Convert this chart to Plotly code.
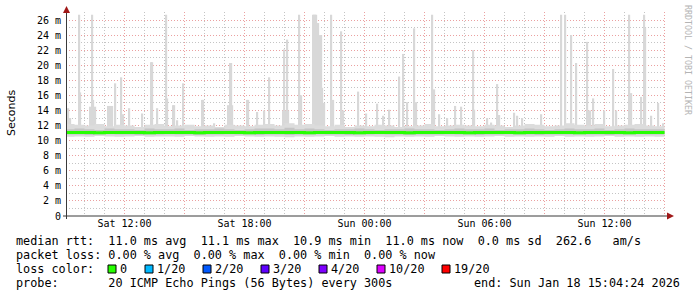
import plotly.graph_objects as go
from datetime import datetime, timedelta

# ---------------- data ----------------
SAT0 = datetime(2026, 1, 17)            # Saturday 00:00
x_start = "2026-01-17 09:04:24"
x_end = "2026-01-18 15:04:24"
block_first_hour = 9.0                  # half-hour blocks starting Sat 09:00

# smoke band (all 20 pings) per half hour, ms
smoke_hi = [12.2, 12.1, 12.0, 12.2, 11.9, 12.1, 12.0, 11.8, 12.1, 12.2,
            11.9, 12.0, 12.1, 11.9, 12.0, 11.8, 12.1, 12.0, 11.9, 12.1,
            12.2, 12.0, 12.3, 12.1, 12.2, 12.0, 11.9, 12.1, 11.8, 12.0,
            11.9, 12.1, 12.0, 11.8, 11.9, 12.0, 12.2, 11.9, 12.0, 12.1,
            12.0, 11.9, 12.1, 12.0, 11.8, 12.0, 12.2, 12.1, 11.9, 12.0,
            12.3, 12.1, 12.0, 12.2, 11.9, 12.0, 12.1, 12.2, 12.0, 11.9]
smoke_lo = [10.5, 10.55, 10.5, 10.6, 10.55, 10.5, 10.55, 10.6, 10.5, 10.55,
            10.55, 10.5, 10.6, 10.55, 10.5, 10.55, 10.5, 10.6, 10.55, 10.5,
            10.55, 10.5, 10.45, 10.55, 10.5, 10.55, 10.6, 10.5, 10.55, 10.5,
            10.55, 10.5, 10.45, 10.55, 10.5, 10.55, 10.5, 10.6, 10.55, 10.5,
            10.55, 10.5, 10.55, 10.6, 10.5, 10.55, 10.5, 10.55, 10.5, 10.6,
            10.5, 10.55, 10.5, 10.55, 10.6, 10.5, 10.55, 10.5, 10.55, 10.5]
# denser core of the smoke
core_hi = [11.5, 11.6, 11.5, 11.4, 11.6, 11.5, 11.5, 11.4, 11.6, 11.5,
           11.5, 11.6, 11.4, 11.5, 11.5, 11.6, 11.5, 11.4, 11.5, 11.6,
           11.6, 11.5, 11.7, 11.5, 11.6, 11.5, 11.4, 11.5, 11.5, 11.6,
           11.5, 11.4, 11.5, 11.5, 11.6, 11.5, 11.5, 11.4, 11.5, 11.6,
           11.5, 11.5, 11.6, 11.4, 11.5, 11.5, 11.6, 11.5, 11.4, 11.5,
           11.6, 11.5, 11.5, 11.6, 11.4, 11.5, 11.6, 11.5, 11.5, 11.5]
core_lo = [10.8, 10.8, 10.75, 10.8, 10.85, 10.8, 10.8, 10.75, 10.8, 10.8,
           10.85, 10.8, 10.8, 10.75, 10.8, 10.8, 10.85, 10.8, 10.8, 10.75,
           10.8, 10.8, 10.75, 10.8, 10.8, 10.85, 10.8, 10.8, 10.75, 10.8,
           10.8, 10.85, 10.8, 10.8, 10.75, 10.8, 10.8, 10.8, 10.85, 10.8,
           10.8, 10.75, 10.8, 10.8, 10.85, 10.8, 10.8, 10.75, 10.8, 10.8,
           10.8, 10.85, 10.8, 10.8, 10.75, 10.8, 10.8, 10.85, 10.8, 10.8]
median_rtt = [11.07, 11.08, 11.07, 11.06, 11.07, 11.08, 11.07, 11.07, 11.06, 11.07,
              11.08, 11.07, 11.07, 11.06, 11.07, 11.07, 11.08, 11.07, 11.06, 11.07,
              11.07, 11.08, 11.07, 11.07, 11.06, 11.07, 11.08, 11.07, 11.07, 11.06,
              11.07, 11.07, 11.08, 11.07, 11.06, 11.07, 11.07, 11.08, 11.07, 11.07,
              11.06, 11.07, 11.08, 11.07, 11.07, 11.06, 11.07, 11.07, 11.08, 11.07,
              11.07, 11.06, 11.07, 11.08, 11.07, 11.07, 11.06, 11.07, 11.07, 11.07]

# single slow pings (hours since Sat 00:00, ms)
spike_hours = [9.19, 9.29, 9.74, 9.79, 10.29, 10.39, 10.44, 10.54, 11.19, 11.29,
               11.39, 11.54, 11.84, 11.94, 12.24, 12.89, 13.34, 13.39, 13.64, 14.09,
               14.14, 14.44, 14.49, 14.64, 14.94, 15.89, 15.94, 16.49, 17.19, 17.29,
               17.34, 17.39, 18.14, 18.19, 18.64, 18.99, 19.24, 19.94, 19.99, 20.04,
               20.14, 20.19, 20.74, 20.79, 20.84, 21.44, 21.49, 21.54, 21.59, 21.69,
               21.74, 21.79, 21.84, 21.89, 21.94, 21.99, 22.34, 22.44, 22.84, 22.94,
               23.69, 24.09, 24.64, 24.94, 25.24, 25.74, 25.94, 26.14, 26.49, 26.59,
               27.39, 27.49, 27.74, 28.14, 28.54, 28.84, 29.44, 29.49, 30.14, 30.34,
               30.64, 30.74, 31.49, 31.64, 31.89, 32.84, 33.84, 34.04, 34.34, 34.59,
               35.14, 35.19, 35.29, 35.44, 35.99, 36.44, 36.59, 37.24, 37.34, 37.84,
               37.99, 38.04, 38.34, 38.69, 38.94]
spike_tops = [14.3, 13.0, 26.7, 16.4, 14.5, 26.7, 15.4, 14.5, 14.6, 14.6,
              14.6, 17.6, 18.4, 13.5, 14.3, 13.6, 20.4, 20.4, 14.3, 26.7,
              15.6, 14.7, 14.7, 12.7, 17.6, 15.4, 15.4, 12.3, 14.7, 20.3,
              20.3, 14.7, 15.4, 15.4, 13.8, 14.0, 18.4, 14.0, 22.1, 14.0,
              23.4, 14.0, 26.7, 16.0, 16.0, 26.7, 26.7, 26.7, 26.7, 25.6,
              24.0, 17.0, 24.0, 17.0, 14.0, 15.0, 26.7, 15.4, 24.5, 14.0,
              16.5, 13.6, 14.9, 13.3, 14.1, 18.5, 21.5, 15.1, 24.9, 15.1,
              26.7, 16.8, 13.5, 13.0, 14.6, 14.5, 22.0, 14.1, 13.0, 12.4,
              17.5, 13.4, 13.7, 13.3, 13.0, 13.5, 26.7, 26.7, 24.0, 20.3,
              23.1, 14.0, 14.0, 15.6, 14.0, 19.5, 14.0, 26.7, 16.3, 15.8,
              26.7, 25.0, 13.3, 15.0, 12.3]
spike_base = 11.0

x_tick_vals = ["2026-01-17 12:00", "2026-01-17 15:00", "2026-01-17 18:00", "2026-01-17 21:00",
               "2026-01-18 00:00", "2026-01-18 03:00", "2026-01-18 06:00", "2026-01-18 09:00",
               "2026-01-18 12:00", "2026-01-18 15:00"]
x_tick_text = ["Sat 12:00", "", "Sat 18:00", "", "Sun 00:00", "", "Sun 06:00", "", "Sun 12:00", ""]
y_tick_vals = [0, 2, 4, 6, 8, 10, 12, 14, 16, 18, 20, 22, 24, 26]
y_tick_text = ["0", "2 m", "4 m", "6 m", "8 m", "10 m", "12 m", "14 m", "16 m",
               "18 m", "20 m", "22 m", "24 m", "26 m"]

legend_rtt = "median rtt:  11.0 ms avg  11.1 ms max  10.9 ms min  11.0 ms now  0.0 ms sd  262.6   am/s"
legend_loss = "packet loss: 0.00 % avg  0.00 % max  0.00 % min  0.00 % now"
legend_color_title = "loss color:"
loss_labels = ["0", "1/20", "2/20", "3/20", "4/20", "10/20", "19/20"]
loss_colors = ["#26ff00", "#00b8ff", "#0059ff", "#5e00ff", "#7e00ff", "#dd00ff", "#ff0000"]
legend_probe = "probe:       20 ICMP Echo Pings (56 Bytes) every 300s"
legend_end = "end: Sun Jan 18 15:04:24 2026"
watermark = "RRDTOOL / TOBI OETIKER"

# ---------------- layout geometry (px) ----------------
W, H = 697, 297
L, R, T, B = 66, 31, 12, 81
PW, PH = W - L - R, H - T - B


def px(x):
    return (x - L) / PW


def py(y):
    return (T + PH - y) / PH


def nb(s):
    return s.replace(" ", "\u00a0")


block_times = [SAT0 + timedelta(hours=block_first_hour + 0.5 * i) for i in range(len(smoke_hi) + 1)]


def ext(v):
    return list(v) + [v[-1]]


fig = go.Figure()

# outer smoke
fig.add_trace(go.Scatter(x=block_times, y=ext(smoke_lo), mode="lines", line=dict(width=0, shape="hv"),
                         hoverinfo="skip", showlegend=False))
fig.add_trace(go.Scatter(x=block_times, y=ext(smoke_hi), mode="lines", line=dict(width=0, shape="hv"),
                         fill="tonexty", fillcolor="#dcdcdc", hoverinfo="skip", showlegend=False))
# spikes
fig.add_trace(go.Bar(x=[SAT0 + timedelta(hours=h) for h in spike_hours],
                     y=[t - spike_base for t in spike_tops], base=spike_base,
                     width=300000, marker=dict(color="#d8d8d8", line=dict(width=0)),
                     hoverinfo="skip", showlegend=False))
# core smoke
fig.add_trace(go.Scatter(x=block_times, y=ext(core_lo), mode="lines", line=dict(width=0, shape="hv"),
                         hoverinfo="skip", showlegend=False))
fig.add_trace(go.Scatter(x=block_times, y=ext(core_hi), mode="lines", line=dict(width=0, shape="hv"),
                         fill="tonexty", fillcolor="#c4c4c4", hoverinfo="skip", showlegend=False))
# median
fig.add_trace(go.Scatter(x=block_times, y=ext(median_rtt), mode="lines",
                         line=dict(width=3, color="#26ff00", shape="hv"),
                         hoverinfo="skip", showlegend=False))

mono = "DejaVu Sans Mono"
grid_minor = "#c4c4c4"
grid_major = "#eba0a0"

fig.update_layout(
    width=W, height=H, autosize=False,
    margin=dict(l=L, r=R, t=T, b=B, pad=0),
    paper_bgcolor="white", plot_bgcolor="white",
    barmode="overlay",
    font=dict(family=mono, size=10, color="#000"),
    xaxis=dict(type="date", range=[x_start, x_end], tickmode="array",
               tickvals=x_tick_vals, ticktext=x_tick_text, showgrid=True,
               gridcolor=grid_major, griddash="1px,2px", gridwidth=1,
               ticks="", showline=False, zeroline=False,
               tickfont=dict(family=mono, size=10, color="#000"),
               minor=dict(tickmode="linear", tick0="2026-01-17 00:00", dtick=3600000,
                          showgrid=True, gridcolor=grid_minor, griddash="1px,2px", gridwidth=1,
                          ticks="")),
    yaxis=dict(range=[0, PH / 7.538], tickmode="array", tickvals=y_tick_vals, ticktext=y_tick_text,
               showgrid=True, gridcolor=grid_major, griddash="1px,2px", gridwidth=1,
               ticks="", showline=False, zeroline=False, ticklabelstandoff=4,
               tickfont=dict(family=mono, size=10, color="#000"),
               minor=dict(tickmode="linear", tick0=0, dtick=1, showgrid=True,
                          gridcolor=grid_minor, griddash="1px,2px", gridwidth=1, ticks="")),
)

shapes = []
axis_col = "#3a3a3a"
arrow_col = "#a01818"
# x axis + arrow
shapes.append(dict(type="line", xref="paper", yref="paper", x0=px(63), x1=px(668), y0=py(216), y1=py(216),
                   line=dict(color=axis_col, width=1)))
shapes.append(dict(type="path", xref="paper", yref="paper",
                   path=f"M {px(667)} {py(212.5)} L {px(674)} {py(216)} L {px(667)} {py(219.5)} Z",
                   fillcolor=arrow_col, line=dict(color=arrow_col, width=0)))
# y axis + arrow
shapes.append(dict(type="line", xref="paper", yref="paper", x0=px(66.5), x1=px(66.5), y0=py(219), y1=py(12),
                   line=dict(color=axis_col, width=1)))
shapes.append(dict(type="path", xref="paper", yref="paper",
                   path=f"M {px(63)} {py(13)} L {px(66.5)} {py(6)} L {px(70)} {py(13)} Z",
                   fillcolor=arrow_col, line=dict(color=arrow_col, width=0)))

ann = []
lf = dict(family=mono, size=11.8, color="#000")


def add_text(x, y, text, anchor="left", font=lf, angle=0):
    ann.append(dict(x=px(x), y=py(y), xref="paper", yref="paper", text=nb(text), showarrow=False,
                    xanchor=anchor, yanchor="middle", font=font, textangle=angle,
                    borderpad=0, borderwidth=0))


add_text(16, 241, legend_rtt)
add_text(16, 255, legend_loss)
add_text(16, 269, legend_color_title)
add_text(16, 283, legend_probe)
add_text(680, 283, legend_end, anchor="right")

box_x = [108, 145, 203, 261, 319, 377, 442]
for bx, lab, col in zip(box_x, loss_labels, loss_colors):
    shapes.append(dict(type="rect", xref="paper", yref="paper", x0=px(bx), x1=px(bx + 8),
                       y0=py(273), y1=py(265), fillcolor=col, line=dict(color="#000", width=1)))
    add_text(bx + 12, 269, lab)

ann.append(dict(x=px(11), y=py(113), xref="paper", yref="paper", text="Seconds", showarrow=False,
                xanchor="center", yanchor="middle", textangle=-90,
                font=dict(family="DejaVu Sans", size=11, color="#000")))
ann.append(dict(x=px(688), y=py(60), xref="paper", yref="paper", text=nb(watermark), showarrow=False,
                xanchor="center", yanchor="middle", textangle=90,
                font=dict(family=mono, size=8.3, color="#b4b4b4")))

fig.update_layout(shapes=shapes, annotations=ann)
fig.write_html("out.html")
